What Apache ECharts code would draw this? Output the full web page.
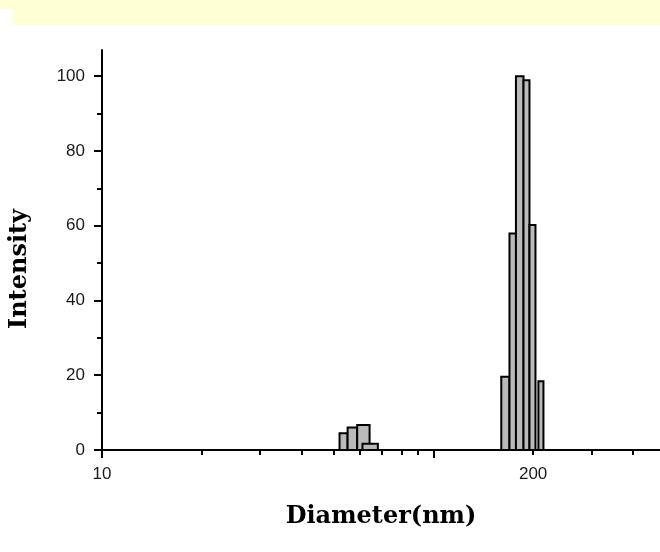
<!DOCTYPE html>
<html>
<head>
<meta charset="utf-8">
<script src="https://cdn.jsdelivr.net/npm/echarts@6/dist/echarts.min.js"></script>
<style>html,body{margin:0;padding:0;background:#fff}#c{width:660px;height:552px}</style>
</head>
<body>
<div id="c"></div>
<script>
// Histogram bins: left edge, right edge (nm), intensity
const binLeft  = [52.1, 55.1, 58.9, 61.1, 160.3, 169.7, 177.5, 187.1, 195.0, 207.5];
const binRight = [55.1, 58.9, 64.2, 68.0, 169.7, 177.5, 187.1, 195.0, 203.3, 214.9];
const intensity = [4.5, 6.0, 6.7, 1.7, 19.6, 57.9, 100, 98.9, 60.2, 18.4];

const xMajorTicks = [10, 100];
const xMinorTicks = [20, 30, 40, 50, 60, 70, 80, 90, 200, 300, 400];
const xTickLabels = [10, 200];
const yMajorTicks = [0, 20, 40, 60, 80, 100];
const yMinorTicks = [10, 30, 50, 70, 90];

const L = v => Math.log10(v);
const xMin = 10, xMax = 483, yMax = 107;

const data = binLeft.map((l, i) => [L(l), L(binRight[i]), intensity[i]]);

const labelFont = {fontFamily: 'Liberation Sans, Arial, sans-serif', fontSize: 17, color: '#1a1a1a'};
const titleFont = {fontFamily: 'DejaVu Serif, serif', fontWeight: 'bold', fontSize: 24, color: '#000'};

const chart = echarts.init(document.getElementById('c'), null, {renderer: 'canvas'});
const baseX = {
  type: 'value', min: L(xMin), max: L(xMax), position: 'bottom',
  splitLine: {show: false}
};
const baseY = {
  type: 'value', min: 0, max: yMax, position: 'left',
  splitLine: {show: false}
};
chart.setOption({
  animation: false,
  grid: {left: 101, right: 0, top: 50, bottom: 102},
  graphic: [
    {type: 'rect', shape: {x: 0, y: 0, width: 660, height: 9}, style: {fill: '#ffffd5'}, silent: true},
    {type: 'rect', shape: {x: 13, y: 0, width: 647, height: 25}, style: {fill: '#ffffd5'}, silent: true}
  ],
  xAxis: [
    Object.assign({}, baseX, {
      name: 'Diameter(nm)', nameLocation: 'middle', nameGap: 55, nameTextStyle: titleFont,
      axisLine: {show: true, onZero: false, lineStyle: {color: '#000', width: 2}},
      axisTick: {show: true, inside: false, length: 8, customValues: xMajorTicks.map(L), lineStyle: {color: '#000', width: 2}},
      axisLabel: Object.assign({show: true, margin: 16, customValues: xTickLabels.map(L),
        formatter: v => String(Math.round(Math.pow(10, v)))}, labelFont)
    }),
    Object.assign({}, baseX, {
      axisLine: {show: false, onZero: false},
      axisTick: {show: true, length: 5, customValues: xMinorTicks.map(L), lineStyle: {color: '#000', width: 2}},
      axisLabel: {show: false}
    })
  ],
  yAxis: [
    Object.assign({}, baseY, {
      name: 'Intensity', nameLocation: 'middle', nameGap: 70, nameRotate: 90,
      nameTextStyle: Object.assign({padding: [0, 38, 0, 0]}, titleFont),
      axisLine: {show: true, onZero: false, lineStyle: {color: '#000', width: 2}},
      axisTick: {show: true, length: 8, customValues: yMajorTicks, lineStyle: {color: '#000', width: 2}},
      axisLabel: Object.assign({show: true, margin: 17, customValues: yMajorTicks}, labelFont)
    }),
    Object.assign({}, baseY, {
      axisLine: {show: false, onZero: false},
      axisTick: {show: true, length: 5, customValues: yMinorTicks, lineStyle: {color: '#000', width: 2}},
      axisLabel: {show: false}
    })
  ],
  series: [{
    type: 'custom',
    xAxisIndex: 0, yAxisIndex: 0,
    data: data,
    encode: {x: [0, 1], y: 2},
    clip: false,
    renderItem: function (params, api) {
      const p0 = api.coord([api.value(0), 0]);
      const p1 = api.coord([api.value(1), api.value(2)]);
      return {
        type: 'rect',
        shape: {x: p0[0], y: p1[1], width: p1[0] - p0[0], height: p0[1] - p1[1]},
        style: {fill: '#bababa', stroke: '#000', lineWidth: 2}
      };
    }
  }]
});
</script>
</body>
</html>
